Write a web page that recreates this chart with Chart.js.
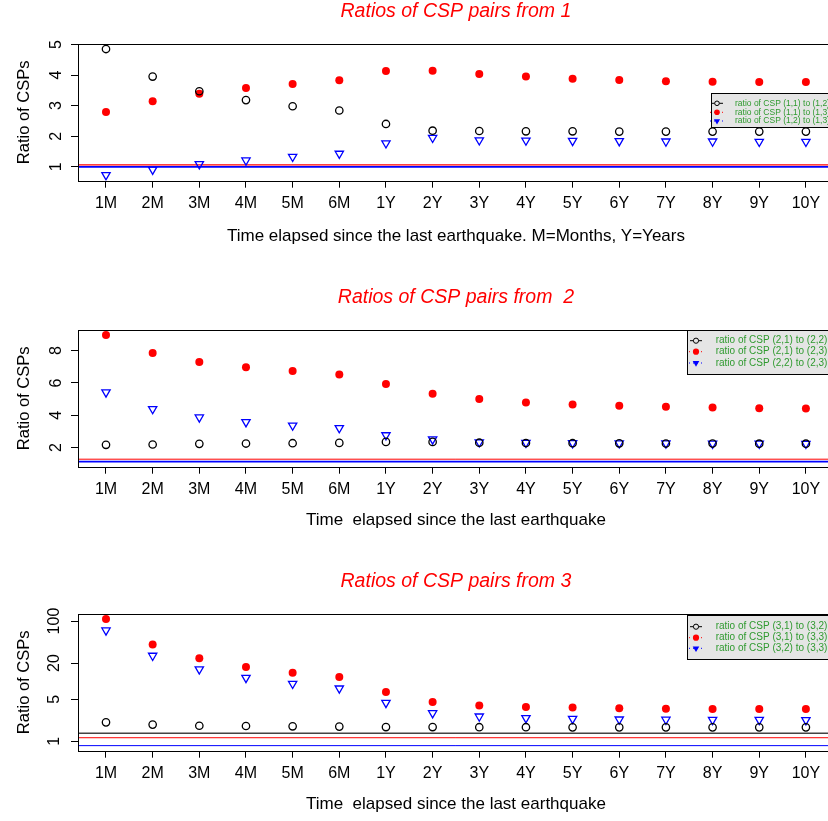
<!DOCTYPE html>
<html lang="en">
<head>
<meta charset="UTF-8">
<script src="https://cdn.jsdelivr.net/npm/chart.js@4.4.0/dist/chart.umd.min.js"></script>
<title>Ratios of CSP pairs</title>
<style>
  html, body { margin: 0; padding: 0; background: #fff; overflow: hidden; width: 828px; height: 821px; }
  canvas { position: absolute; left: 0; }
</style>
</head>
<body>
<canvas id="c1" width="840" height="260" style="top:0px"></canvas>
<canvas id="c2" width="840" height="260" style="top:286px"></canvas>
<canvas id="c3" width="840" height="260" style="top:570px"></canvas>

<script>
    const periods = ['1M', '2M', '3M', '4M', '5M', '6M', '1Y', '2Y', '3Y', '4Y', '5Y', '6Y', '7Y', '8Y', '9Y', '10Y'];

    // from 1
    const r11_12 = [4.85, 3.95, 3.47, 3.18, 2.98, 2.84, 2.40, 2.18, 2.17, 2.16, 2.16, 2.15, 2.15, 2.15, 2.15, 2.15];
    const r11_13 = [2.79, 3.14, 3.39, 3.58, 3.71, 3.83, 4.13, 4.14, 4.03, 3.95, 3.88, 3.84, 3.80, 3.78, 3.77, 3.77];
    const r12_13 = [0.73, 0.91, 1.09, 1.21, 1.33, 1.43, 1.77, 1.95, 1.87, 1.86, 1.85, 1.84, 1.83, 1.83, 1.82, 1.82];
    const yTicks1 = [1, 2, 3, 4, 5];
    const yLabels1 = ['1', '2', '3', '4', '5'];
    const hLines1 = [1.0, 1.06];

    // from 2
    const r21_22 = [2.17, 2.19, 2.23, 2.25, 2.27, 2.29, 2.35, 2.35, 2.30, 2.28, 2.27, 2.26, 2.25, 2.25, 2.24, 2.24];
    const r21_23 = [8.97, 7.86, 7.30, 6.97, 6.74, 6.53, 5.93, 5.33, 5.00, 4.79, 4.67, 4.59, 4.52, 4.48, 4.44, 4.42];
    const r22_23 = [5.42, 4.39, 3.87, 3.58, 3.37, 3.21, 2.77, 2.51, 2.33, 2.30, 2.28, 2.27, 2.26, 2.25, 2.25, 2.24];
    const yTicks2 = [2, 4, 6, 8];
    const yLabels2 = ['2', '4', '6', '8'];
    const hLines2 = [1.13, 1.28];

    // from 3 (log axis)
    const r31_32 = [2.07, 1.90, 1.82, 1.80, 1.78, 1.76, 1.73, 1.73, 1.72, 1.72, 1.71, 1.71, 1.71, 1.71, 1.71, 1.71];
    const r31_33 = [108, 40.8, 24.2, 17.3, 13.8, 11.7, 6.64, 4.52, 3.93, 3.73, 3.64, 3.55, 3.50, 3.46, 3.46, 3.46];
    const r32_33 = [70, 26.6, 15.8, 11.4, 9.1, 7.6, 4.37, 2.95, 2.60, 2.44, 2.37, 2.32, 2.30, 2.28, 2.28, 2.26];
    const yTicks3 = [1, 2, 5, 10, 20, 50, 100];
    const yLabels3 = ['1', '', '5', '', '20', '', '100'];
    const hLines3 = [0.85, 1.15, 1.36];

    const FONT = "'Liberation Sans', Arial, Helvetica, sans-serif";
    const GREEN = '#2f9a2f';

    // title, reference lines, box and legend
    const extras = {
        id: 'extras',
        beforeDatasetsDraw(chart, args, opts) {
            const ctx = chart.ctx, a = chart.chartArea, y = chart.scales.y;
            ctx.save();
            opts.lines.forEach(l => {
                const py = y.getPixelForValue(l.v);
                ctx.strokeStyle = l.color;
                ctx.lineWidth = l.w;
                ctx.beginPath();
                ctx.moveTo(a.left, py);
                ctx.lineTo(a.right, py);
                ctx.stroke();
            });
            ctx.restore();
        },
        afterDraw(chart, args, opts) {
            const ctx = chart.ctx, a = chart.chartArea;
            ctx.save();
            ctx.strokeStyle = '#000';
            ctx.lineWidth = 1;
            ctx.strokeRect(Math.round(a.left) + 0.5, Math.round(a.top) + 0.5, a.right - a.left, Math.round(a.bottom - a.top));

            ctx.fillStyle = '#ff0000';
            ctx.font = 'italic 19.5px ' + FONT;
            ctx.textAlign = 'center';
            ctx.textBaseline = 'middle';
            ctx.fillText(opts.title, (a.left + a.right) / 2, 12);

            const lg = opts.legend;
            ctx.fillStyle = '#e5e5e5';
            ctx.fillRect(lg.x, lg.y, 200, lg.h);
            ctx.strokeStyle = '#000';
            ctx.lineWidth = 1;
            ctx.strokeRect(lg.x + 0.5, lg.y + 0.5, 200, lg.h);

            ctx.font = lg.size + 'px ' + FONT;
            ctx.textAlign = 'left';
            lg.labels.forEach((t, i) => {
                const ry = lg.rows[i];
                const sx = lg.sx;
                ctx.lineWidth = 1;
                if (i === 0) {
                    ctx.strokeStyle = '#000';
                    ctx.setLineDash([]);
                    ctx.beginPath(); ctx.moveTo(sx - 6, ry); ctx.lineTo(sx + 6, ry); ctx.stroke();
                    ctx.fillStyle = '#e5e5e5';
                    ctx.beginPath(); ctx.arc(sx, ry, lg.r, 0, Math.PI * 2); ctx.fill(); ctx.stroke();
                } else {
                    const c = i === 1 ? '#ff0000' : '#0000ff';
                    ctx.strokeStyle = c;
                    ctx.setLineDash([1, 3]);
                    ctx.beginPath(); ctx.moveTo(sx - 7, ry); ctx.lineTo(sx + 7, ry); ctx.stroke();
                    ctx.setLineDash([]);
                    ctx.fillStyle = c;
                    ctx.beginPath();
                    if (i === 1) {
                        ctx.arc(sx, ry, lg.r + 0.5, 0, Math.PI * 2);
                    } else {
                        const r = lg.r + 1.2;
                        ctx.moveTo(sx - r * 0.87, ry - r * 0.5);
                        ctx.lineTo(sx + r * 0.87, ry - r * 0.5);
                        ctx.lineTo(sx, ry + r);
                        ctx.closePath();
                    }
                    ctx.fill();
                }
                ctx.fillStyle = GREEN;
                ctx.fillText(t, lg.tx, ry);
            });
            ctx.restore();
        }
    };

    function toPoints(vals) {
        return vals.map((v, i) => ({x: i + 1, y: v}));
    }

    function makeChart(id, c) {
        const ctx = document.getElementById(id).getContext('2d');
        const tickGrid = {drawOnChartArea: false, drawTicks: true, tickLength: 7, color: '#000', lineWidth: 1};
        return new Chart(ctx, {
            type: 'scatter',
            data: {
                datasets: [
                    {label: c.legend.labels[0], data: toPoints(c.series[0]), pointStyle: 'circle', pointRadius: 3.7,
                        backgroundColor: 'rgba(0,0,0,0)', borderColor: '#000', borderWidth: 1.3},
                    {label: c.legend.labels[1], data: toPoints(c.series[1]), pointStyle: 'circle', pointRadius: 4,
                        backgroundColor: '#ff0000', borderColor: '#ff0000', borderWidth: 0},
                    {label: c.legend.labels[2], data: toPoints(c.series[2]), pointStyle: 'triangle', pointRotation: 180,
                        pointRadius: 4.8, backgroundColor: 'rgba(0,0,0,0)', borderColor: '#0000ff', borderWidth: 1.3}
                ]
            },
            plugins: [extras],
            options: {
                responsive: false,
                animation: false,
                events: [],
                layout: {padding: {top: 44, left: 15, right: 5, bottom: c.padBottom}},
                plugins: {
                    legend: {display: false},
                    tooltip: {enabled: false},
                    extras: {title: c.title, lines: c.lines, legend: c.legend}
                },
                scales: {
                    x: {
                        type: 'linear', min: 0.4, max: 16.6,
                        afterBuildTicks: s => { s.ticks = periods.map((p, i) => ({value: i + 1})); },
                        afterFit: s => { s.height = 260 - c.padBottom - 180.7; },
                        grid: tickGrid,
                        border: {display: false},
                        ticks: {autoSkip: false, maxRotation: 0, minRotation: 0, padding: 6, color: '#000',
                            font: {family: FONT, size: 16}, callback: (v, i) => periods[i]},
                        title: {display: true, text: c.xTitle, color: '#000', font: {family: FONT, size: 17}, padding: 0}
                    },
                    y: {
                        type: c.yType, min: c.yMin, max: c.yMax,
                        afterBuildTicks: s => { s.ticks = c.yTicks.map(v => ({value: v})); },
                        afterFit: s => { s.width = 63; },
                        grid: tickGrid,
                        border: {display: false},
                        ticks: {minRotation: 90, maxRotation: 90, crossAlign: 'center', padding: c.tickPad, color: '#000',
                            font: {family: FONT, size: 16}, callback: (v, i) => c.yLabels[i]},
                        title: {display: true, text: 'Ratio of CSPs', color: '#000', font: {family: FONT, size: 16.5}, padding: 0}
                    }
                }
            }
        });
    }

    makeChart('c1', {
        title: 'Ratios of CSP pairs from 1',
        xTitle: 'Time elapsed since the last earthquake. M=Months, Y=Years',
        series: [r11_12, r11_13, r12_13],
        yType: 'linear', yMin: 0.545, yMax: 5.015, yTicks: yTicks1, yLabels: yLabels1, tickPad: 9.5,
        padBottom: 13,
        lines: [{v: hLines1[0], color: '#0000ff', w: 1.8}, {v: hLines1[1], color: '#ff0000', w: 1.2}],
        legend: {x: 711, y: 93, h: 34, size: 8.5, rows: [103.3, 112.3, 121], sx: 717, tx: 735, r: 2.3,
            labels: ['ratio of CSP (1,1) to (1,2)', 'ratio of CSP (1,1) to (1,3)', 'ratio of CSP (1,2) to (1,3)']}
    });

    makeChart('c2', {
        title: 'Ratios of CSP pairs from  2',
        xTitle: 'Time  elapsed since the last earthquake',
        series: [r21_22, r21_23, r22_23],
        yType: 'linear', yMin: 0.815, yMax: 9.28, yTicks: yTicks2, yLabels: yLabels2, tickPad: 9.5,
        padBottom: 15,
        lines: [{v: hLines2[0], color: '#0000ff', w: 1.6}, {v: hLines2[1], color: '#ff0000', w: 1}],
        legend: {x: 687, y: 44, h: 44, size: 10, rows: [54.7, 65.7, 77], sx: 696, tx: 715.7, r: 2.6,
            labels: ['ratio of CSP (2,1) to (2,2)', 'ratio of CSP (2,1) to (2,3)', 'ratio of CSP (2,2) to (2,3)']}
    });

    makeChart('c3', {
        title: 'Ratios of CSP pairs from 3',
        xTitle: 'Time  elapsed since the last earthquake',
        series: [r31_32, r31_33, r32_33],
        yType: 'logarithmic', yMin: 0.70, yMax: 131, yTicks: yTicks3, yLabels: yLabels3, tickPad: 2.6,
        padBottom: 15,
        lines: [{v: hLines3[0], color: '#0000ff', w: 1}, {v: hLines3[1], color: '#ff0000', w: 1},
            {v: hLines3[2], color: '#444444', w: 1.5}],
        legend: {x: 687, y: 45, h: 44, size: 10, rows: [56.7, 67.7, 78.3], sx: 696, tx: 715.7, r: 2.6,
            labels: ['ratio of CSP (3,1) to (3,2)', 'ratio of CSP (3,1) to (3,3)', 'ratio of CSP (3,2) to (3,3)']}
    });
</script>
</body>
</html>
